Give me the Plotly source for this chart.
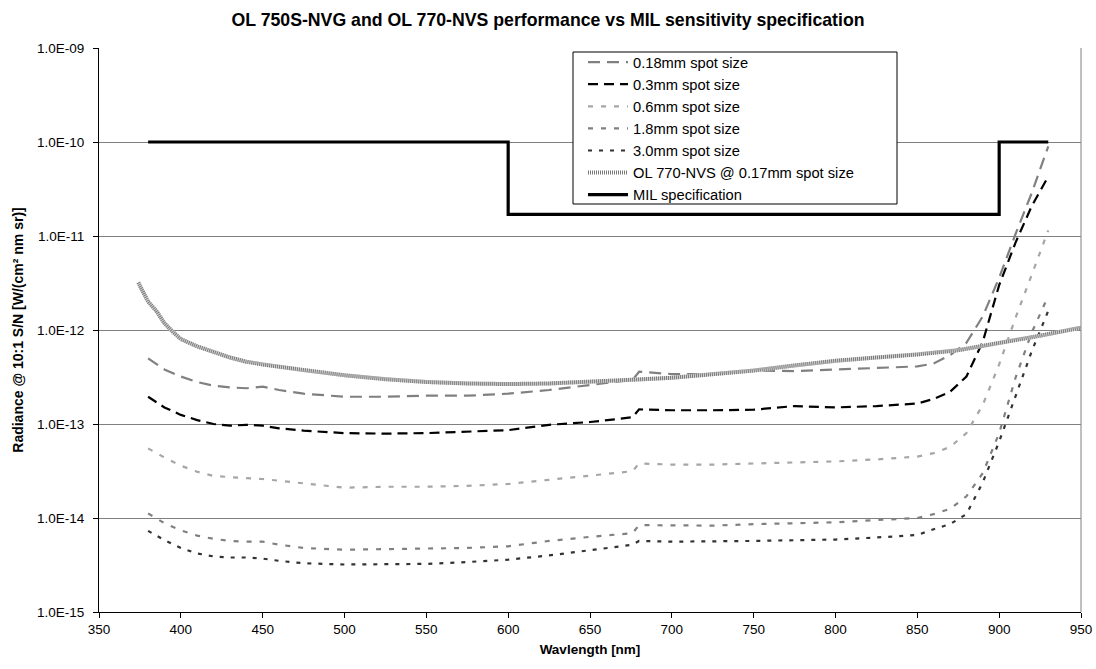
import plotly.graph_objects as go

# ---------------- data ----------------
wl = [380, 390, 400, 410, 420, 430, 440, 450, 460, 475, 500, 525, 550, 575, 600,
      625, 650, 665, 676, 680, 700, 725, 750, 775, 800, 825, 850, 860, 870, 880,
      890, 900, 910, 920, 930]

spot_018 = [5.0e-13, 3.8e-13, 3.2e-13, 2.8e-13, 2.55e-13, 2.45e-13, 2.4e-13, 2.5e-13, 2.3e-13, 2.1e-13,
            1.95e-13, 1.95e-13, 2.0e-13, 2.0e-13, 2.1e-13, 2.3e-13, 2.6e-13, 2.8e-13, 2.95e-13, 3.6e-13,
            3.4e-13, 3.4e-13, 3.7e-13, 3.65e-13, 3.8e-13, 3.95e-13, 4.1e-13, 4.4e-13, 5.4e-13, 7.3e-13,
            1.4e-12, 3.6e-12, 1.05e-11, 2.9e-11, 9.0e-11]

spot_03 = [1.95e-13, 1.5e-13, 1.25e-13, 1.1e-13, 1.0e-13, 9.6e-14, 9.8e-14, 9.6e-14, 9.0e-14, 8.5e-14,
           8.0e-14, 7.9e-14, 8.0e-14, 8.3e-14, 8.6e-14, 9.8e-14, 1.05e-13, 1.12e-13, 1.18e-13, 1.43e-13,
           1.4e-13, 1.4e-13, 1.42e-13, 1.55e-13, 1.5e-13, 1.55e-13, 1.65e-13, 1.85e-13, 2.2e-13, 3.2e-13,
           7.5e-13, 3.0e-12, 8.5e-12, 2.1e-11, 4.3e-11]

spot_06 = [5.5e-14, 4.4e-14, 3.6e-14, 3.1e-14, 2.8e-14, 2.7e-14, 2.65e-14, 2.6e-14, 2.5e-14, 2.35e-14,
           2.1e-14, 2.15e-14, 2.15e-14, 2.2e-14, 2.3e-14, 2.55e-14, 2.8e-14, 3.0e-14, 3.15e-14, 3.8e-14,
           3.7e-14, 3.7e-14, 3.8e-14, 3.9e-14, 4.0e-14, 4.2e-14, 4.5e-14, 4.9e-14, 5.7e-14, 8.0e-14,
           1.6e-13, 4.3e-13, 1.35e-12, 3.9e-12, 1.15e-11]

spot_18 = [1.12e-14, 8.8e-15, 7.4e-15, 6.5e-15, 6.0e-15, 5.7e-15, 5.6e-15, 5.6e-15, 5.2e-15, 4.8e-15,
           4.6e-15, 4.65e-15, 4.7e-15, 4.8e-15, 5.0e-15, 5.7e-15, 6.3e-15, 6.6e-15, 6.9e-15, 8.4e-15,
           8.3e-15, 8.3e-15, 8.6e-15, 8.8e-15, 9.0e-15, 9.5e-15, 1.0e-14, 1.1e-14, 1.25e-14, 1.7e-14,
           3.0e-14, 8.0e-14, 3.1e-13, 9.5e-13, 2.3e-12]

spot_30 = [7.3e-15, 5.8e-15, 4.8e-15, 4.2e-15, 3.9e-15, 3.8e-15, 3.8e-15, 3.7e-15, 3.5e-15, 3.3e-15,
           3.2e-15, 3.2e-15, 3.25e-15, 3.4e-15, 3.6e-15, 4.0e-15, 4.5e-15, 4.9e-15, 5.2e-15, 5.7e-15,
           5.6e-15, 5.6e-15, 5.7e-15, 5.8e-15, 5.9e-15, 6.2e-15, 6.6e-15, 7.6e-15, 8.6e-15, 1.1e-14,
           2.4e-14, 6.5e-14, 2.0e-13, 6.0e-13, 1.6e-12]

wl_770 = [374, 377, 380, 385, 390, 395, 400, 410, 420, 430, 440, 450, 475, 500, 525, 550, 575,
          600, 625, 650, 675, 700, 725, 750, 775, 800, 825, 850, 875, 900, 925, 950]
ol770 = [3.2e-12, 2.5e-12, 2.0e-12, 1.6e-12, 1.18e-12, 9.6e-13, 8.0e-13, 6.7e-13, 5.8e-13, 5.1e-13,
         4.6e-13, 4.3e-13, 3.75e-13, 3.3e-13, 3.0e-13, 2.8e-13, 2.7e-13, 2.66e-13, 2.7e-13, 2.8e-13,
         2.95e-13, 3.1e-13, 3.35e-13, 3.7e-13, 4.2e-13, 4.7e-13, 5.1e-13, 5.5e-13, 6.1e-13, 7.2e-13,
         8.7e-13, 1.06e-12]

mil_wl = [380, 600, 600, 900, 900, 930]
mil_spec = [1e-10, 1e-10, 1.7e-11, 1.7e-11, 1e-10, 1e-10]

x_ticks = [350, 400, 450, 500, 550, 600, 650, 700, 750, 800, 850, 900, 950]
y_tickvals = [1e-15, 1e-14, 1e-13, 1e-12, 1e-11, 1e-10, 1e-9]
y_ticktext = ["1.0E-15", "1.0E-14", "1.0E-13", "1.0E-12", "1.0E-11", "1.0E-10", "1.0E-09"]

FONT = "Liberation Sans, Arial, sans-serif"

fig = go.Figure()

fig.add_trace(go.Scatter(x=wl, y=spot_018, mode="lines", name="0.18mm spot size",
                         line=dict(color="#808080", width=2.2, dash="12px,7px")))
fig.add_trace(go.Scatter(x=wl, y=spot_03, mode="lines", name="0.3mm spot size",
                         line=dict(color="#000000", width=2.2, dash="10px,6px")))
fig.add_trace(go.Scatter(x=wl, y=spot_06, mode="lines", name="0.6mm spot size",
                         line=dict(color="#a6a6a6", width=2.2, dash="5px,8px")))
fig.add_trace(go.Scatter(x=wl, y=spot_18, mode="lines", name="1.8mm spot size",
                         line=dict(color="#808080", width=2.2, dash="5px,8px")))
fig.add_trace(go.Scatter(x=wl, y=spot_30, mode="lines", name="3.0mm spot size",
                         line=dict(color="#333333", width=2.2, dash="4px,7px")))
fig.add_trace(go.Scatter(x=wl_770, y=ol770, mode="lines", showlegend=False,
                         legendgroup="ol770", hoverinfo="skip",
                         line=dict(color="#d4d4d4", width=4)))
fig.add_trace(go.Scatter(x=wl_770, y=ol770, mode="lines", name="OL 770-NVS @ 0.17mm spot size",
                         legendgroup="ol770",
                         line=dict(color="#7a7a7a", width=4, dash="1px,1px")))
fig.add_trace(go.Scatter(x=mil_wl, y=mil_spec, mode="lines", name="MIL specification",
                         line=dict(color="#000000", width=3.2)))

L, R, T, B = 99, 1081, 48, 612
W, H = 1096, 669
pw, ph = R - L, B - T

def px_x(p):
    return (p - L) / pw

def px_y(p):
    return (B - p) / ph

shapes = [
    # right border of plot area
    dict(type="line", xref="paper", yref="paper", x0=1, x1=1, y0=0, y1=1,
         line=dict(color="#808080", width=1)),
    # legend box
    dict(type="rect", xref="paper", yref="paper", layer="above",
         x0=px_x(573), x1=px_x(897), y0=px_y(204), y1=px_y(52),
         fillcolor="white", line=dict(color="black", width=1)),
]

fig.update_layout(
    width=W, height=H,
    margin=dict(l=L, r=W - R, t=T, b=H - B, pad=0, autoexpand=False),
    paper_bgcolor="white", plot_bgcolor="white",
    font=dict(family=FONT, size=13, color="black"),
    title=dict(text="<b>OL 750S-NVG and OL 770-NVS performance vs MIL sensitivity specification</b>",
               x=0.5, xanchor="center", xref="container",
               y=1 - 20 / H, yanchor="middle", yref="container",
               font=dict(family=FONT, size=17.7, color="black")),
    showlegend=True,
    legend=dict(x=px_x(583), y=px_y(46), xanchor="left", yanchor="top",
                bgcolor="rgba(0,0,0,0)", borderwidth=0, itemwidth=40,
                font=dict(family=FONT, size=14.7, color="black"),
                tracegroupgap=0),
    shapes=shapes,
    xaxis=dict(range=[350, 950], tickvals=x_ticks, ticks="outside", ticklen=5,
               tickcolor="black", showline=True, linecolor="black", linewidth=1,
               showgrid=False, zeroline=False, automargin=False,
               tickfont=dict(family=FONT, size=13.5),
               title=dict(text="<b>Wavlength [nm]</b>", standoff=8,
                          font=dict(family=FONT, size=13.5))),
    yaxis=dict(type="log", range=[-15, -9], tickvals=y_tickvals, ticktext=y_ticktext,
               ticks="outside", ticklen=5, tickcolor="black", ticklabelstandoff=6,
               showline=True, linecolor="black", linewidth=1, automargin=False,
               showgrid=True, gridcolor="#7f7f7f", gridwidth=1, zeroline=False,
               tickfont=dict(family=FONT, size=13.5),
               title=dict(text="<b>Radiance @ 10:1 S/N [W/(cm² nm sr)]</b>", standoff=10,
                          font=dict(family=FONT, size=14))),
)

fig.write_html("out.html")
